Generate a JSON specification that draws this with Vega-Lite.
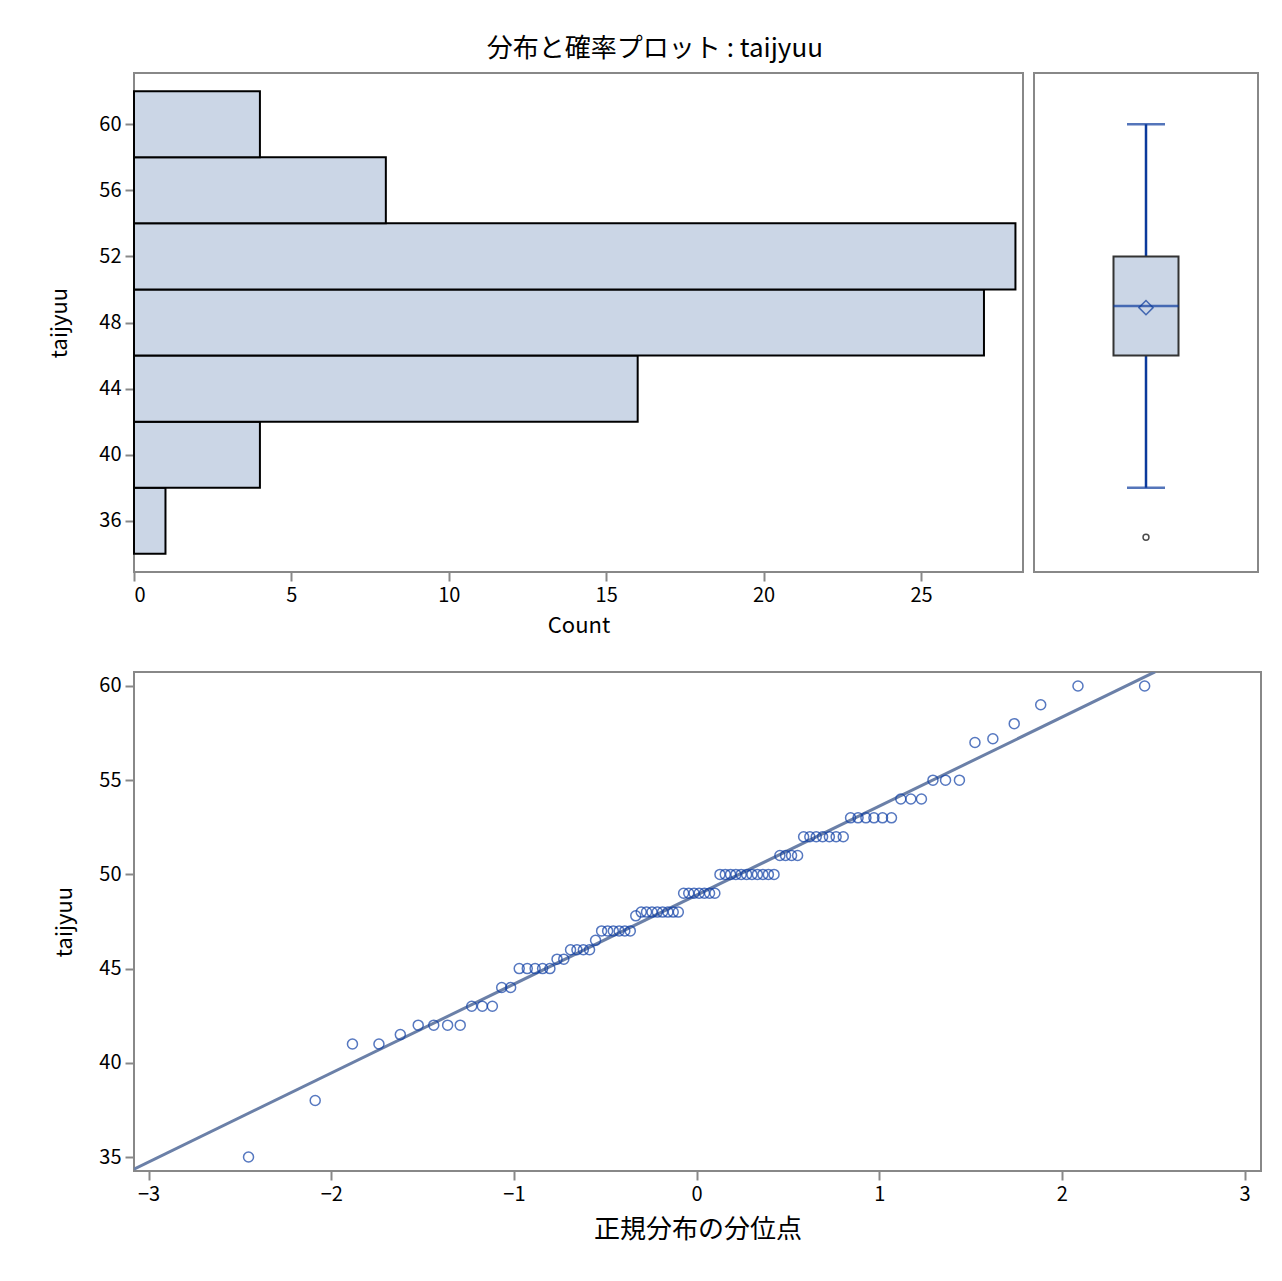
{
"$schema":"https://vega.github.io/schema/vega-lite/v6.json",
"padding":{"left":47,"top":36,"right":5,"bottom":5},
"background":"white",
"title":{"text":"分布と確率プロット : taijyuu","fontSize":26,"font":"Noto Sans CJK JP","fontWeight":"normal","anchor":"middle","offset":10},
"config":{"font":"Noto Sans CJK JP","view":{"stroke":"#888888","strokeWidth":2},
"axis":{"labelFont":"Noto Sans CJK JP","titleFont":"Noto Sans CJK JP","labelFontSize":20,"titleFontSize":22,"titleFontWeight":"normal","grid":false,"domain":false,"tickColor":"#888888","tickWidth":2,"tickSize":9,"labelColor":"#000000","titleColor":"#000000","labelPadding":4}},
"datasets":{
"hist":[{"lo":34,"hi":38,"count":1},{"lo":38,"hi":42,"count":4},{"lo":42,"hi":46,"count":16},{"lo":46,"hi":50,"count":27},{"lo":50,"hi":54,"count":28},{"lo":54,"hi":58,"count":8},{"lo":58,"hi":62,"count":4}],
"box":[{"q1":46,"q3":52,"median":49,"mean":48.9,"lower":38,"upper":60}],
"outliers":[{"v":35}],
"line":[{"z":-3.08,"v":34.36},{"z":2.51,"v":60.75}],
"qq":[{"z":-2.453,"v":35},{"z":-2.088,"v":38},{"z":-1.884,"v":41},{"z":-1.739,"v":41},{"z":-1.622,"v":41.5},
{"z":-1.524,"v":42},{"z":-1.439,"v":42},{"z":-1.363,"v":42},{"z":-1.294,"v":42},
{"z":-1.231,"v":43},{"z":-1.173,"v":43},{"z":-1.118,"v":43},
{"z":-1.067,"v":44},{"z":-1.018,"v":44},
{"z":-0.971,"v":45},{"z":-0.927,"v":45},{"z":-0.884,"v":45},{"z":-0.843,"v":45},{"z":-0.803,"v":45},
{"z":-0.764,"v":45.5},{"z":-0.727,"v":45.5},
{"z":-0.690,"v":46},{"z":-0.655,"v":46},{"z":-0.620,"v":46},{"z":-0.586,"v":46},
{"z":-0.553,"v":46.5},
{"z":-0.520,"v":47},{"z":-0.487,"v":47},{"z":-0.456,"v":47},{"z":-0.424,"v":47},{"z":-0.393,"v":47},{"z":-0.363,"v":47},
{"z":-0.333,"v":47.8},
{"z":-0.303,"v":48},{"z":-0.274,"v":48},{"z":-0.244,"v":48},{"z":-0.215,"v":48},{"z":-0.186,"v":48},{"z":-0.157,"v":48},{"z":-0.128,"v":48},{"z":-0.100,"v":48},
{"z":-0.071,"v":49},{"z":-0.043,"v":49},{"z":-0.014,"v":49},{"z":0.014,"v":49},{"z":0.043,"v":49},{"z":0.071,"v":49},{"z":0.100,"v":49},
{"z":0.128,"v":50},{"z":0.157,"v":50},{"z":0.186,"v":50},{"z":0.215,"v":50},{"z":0.244,"v":50},{"z":0.274,"v":50},{"z":0.303,"v":50},{"z":0.333,"v":50},{"z":0.363,"v":50},{"z":0.393,"v":50},{"z":0.424,"v":50},
{"z":0.456,"v":51},{"z":0.487,"v":51},{"z":0.520,"v":51},{"z":0.553,"v":51},
{"z":0.586,"v":52},{"z":0.620,"v":52},{"z":0.655,"v":52},{"z":0.690,"v":52},{"z":0.727,"v":52},{"z":0.764,"v":52},{"z":0.803,"v":52},
{"z":0.843,"v":53},{"z":0.884,"v":53},{"z":0.927,"v":53},{"z":0.971,"v":53},{"z":1.018,"v":53},{"z":1.067,"v":53},
{"z":1.118,"v":54},{"z":1.173,"v":54},{"z":1.231,"v":54},
{"z":1.294,"v":55},{"z":1.363,"v":55},{"z":1.439,"v":55},
{"z":1.524,"v":57},{"z":1.622,"v":57.2},{"z":1.739,"v":58},{"z":1.884,"v":59},{"z":2.088,"v":60},{"z":2.453,"v":60}]
},
"vconcat":[
{"hconcat":[
{"width":889,"height":499,"data":{"name":"hist"},
"mark":{"type":"bar","fill":"#cbd6e6","stroke":"#000000","strokeWidth":2},
"encoding":{
"y":{"field":"lo","type":"quantitative","scale":{"domain":[32.9,63.1],"nice":false,"zero":false},"axis":{"values":[36,40,44,48,52,56,60],"title":"taijyuu","titlePadding":27}},
"y2":{"field":"hi"},
"x":{"field":"count","type":"quantitative","scale":{"domain":[0,28.24],"nice":false},"axis":{"values":[0,5,10,15,20,25],"format":"d","title":"Count","titlePadding":10}},
"x2":{"datum":0}
}},
{"width":224,"height":499,
"encoding":{"x":{"datum":0.5,"type":"quantitative","scale":{"domain":[0,1]},"axis":null}},
"layer":[
{"data":{"name":"box"},"mark":{"type":"rule","color":"#0b3a9c","strokeWidth":2.5},"encoding":{"y":{"field":"lower","type":"quantitative","scale":{"domain":[32.9,63.1],"nice":false,"zero":false},"axis":null},"y2":{"field":"q1"}}},
{"data":{"name":"box"},"mark":{"type":"rule","color":"#0b3a9c","strokeWidth":2.5},"encoding":{"y":{"field":"q3","type":"quantitative"},"y2":{"field":"upper"}}},
{"data":{"name":"box"},"mark":{"type":"bar","fill":"#cbd6e6","stroke":"#333333","strokeWidth":2,"size":65},"encoding":{"y":{"field":"q1","type":"quantitative"},"y2":{"field":"q3"}}},
{"data":{"name":"box"},"mark":{"type":"tick","orient":"horizontal","color":"#0b3a9c","thickness":2.5,"size":65},"encoding":{"y":{"field":"median","type":"quantitative"}}},
{"data":{"name":"box"},"mark":{"type":"tick","orient":"horizontal","color":"#0b3a9c","thickness":2.5,"size":38},"encoding":{"y":{"field":"lower","type":"quantitative"}}},
{"data":{"name":"box"},"mark":{"type":"tick","orient":"horizontal","color":"#0b3a9c","thickness":2.5,"size":38},"encoding":{"y":{"field":"upper","type":"quantitative"}}},
{"data":{"name":"box"},"mark":{"type":"point","shape":"diamond","filled":false,"color":"#0b3a9c","size":200,"strokeWidth":1.5},"encoding":{"y":{"field":"mean","type":"quantitative"}}},
{"data":{"name":"outliers"},"mark":{"type":"point","shape":"circle","filled":false,"color":"#000000","size":35,"strokeWidth":1.5},"encoding":{"y":{"field":"v","type":"quantitative"}}}
]}
],"spacing":9},
{"width":1127,"height":499,
"layer":[
{"data":{"name":"line"},"mark":{"type":"line","color":"#6b80a8","strokeWidth":3,"clip":true},
"encoding":{"x":{"field":"z","type":"quantitative","scale":{"domain":[-3.08,3.09],"nice":false,"zero":false},"axis":{"values":[-3,-2,-1,0,1,2,3],"format":"d","title":"正規分布の分位点","titleFontSize":26,"titlePadding":12}},
"y":{"field":"v","type":"quantitative","scale":{"domain":[34.26,60.74],"nice":false,"zero":false},"axis":{"values":[35,40,45,50,55,60],"title":"taijyuu","titlePadding":22}}}},
{"data":{"name":"qq"},"mark":{"type":"point","shape":"circle","filled":false,"color":"#0f3fa6","size":100,"strokeWidth":1.5},
"encoding":{"x":{"field":"z","type":"quantitative"},"y":{"field":"v","type":"quantitative"}}}
]}
],"spacing":34
}
